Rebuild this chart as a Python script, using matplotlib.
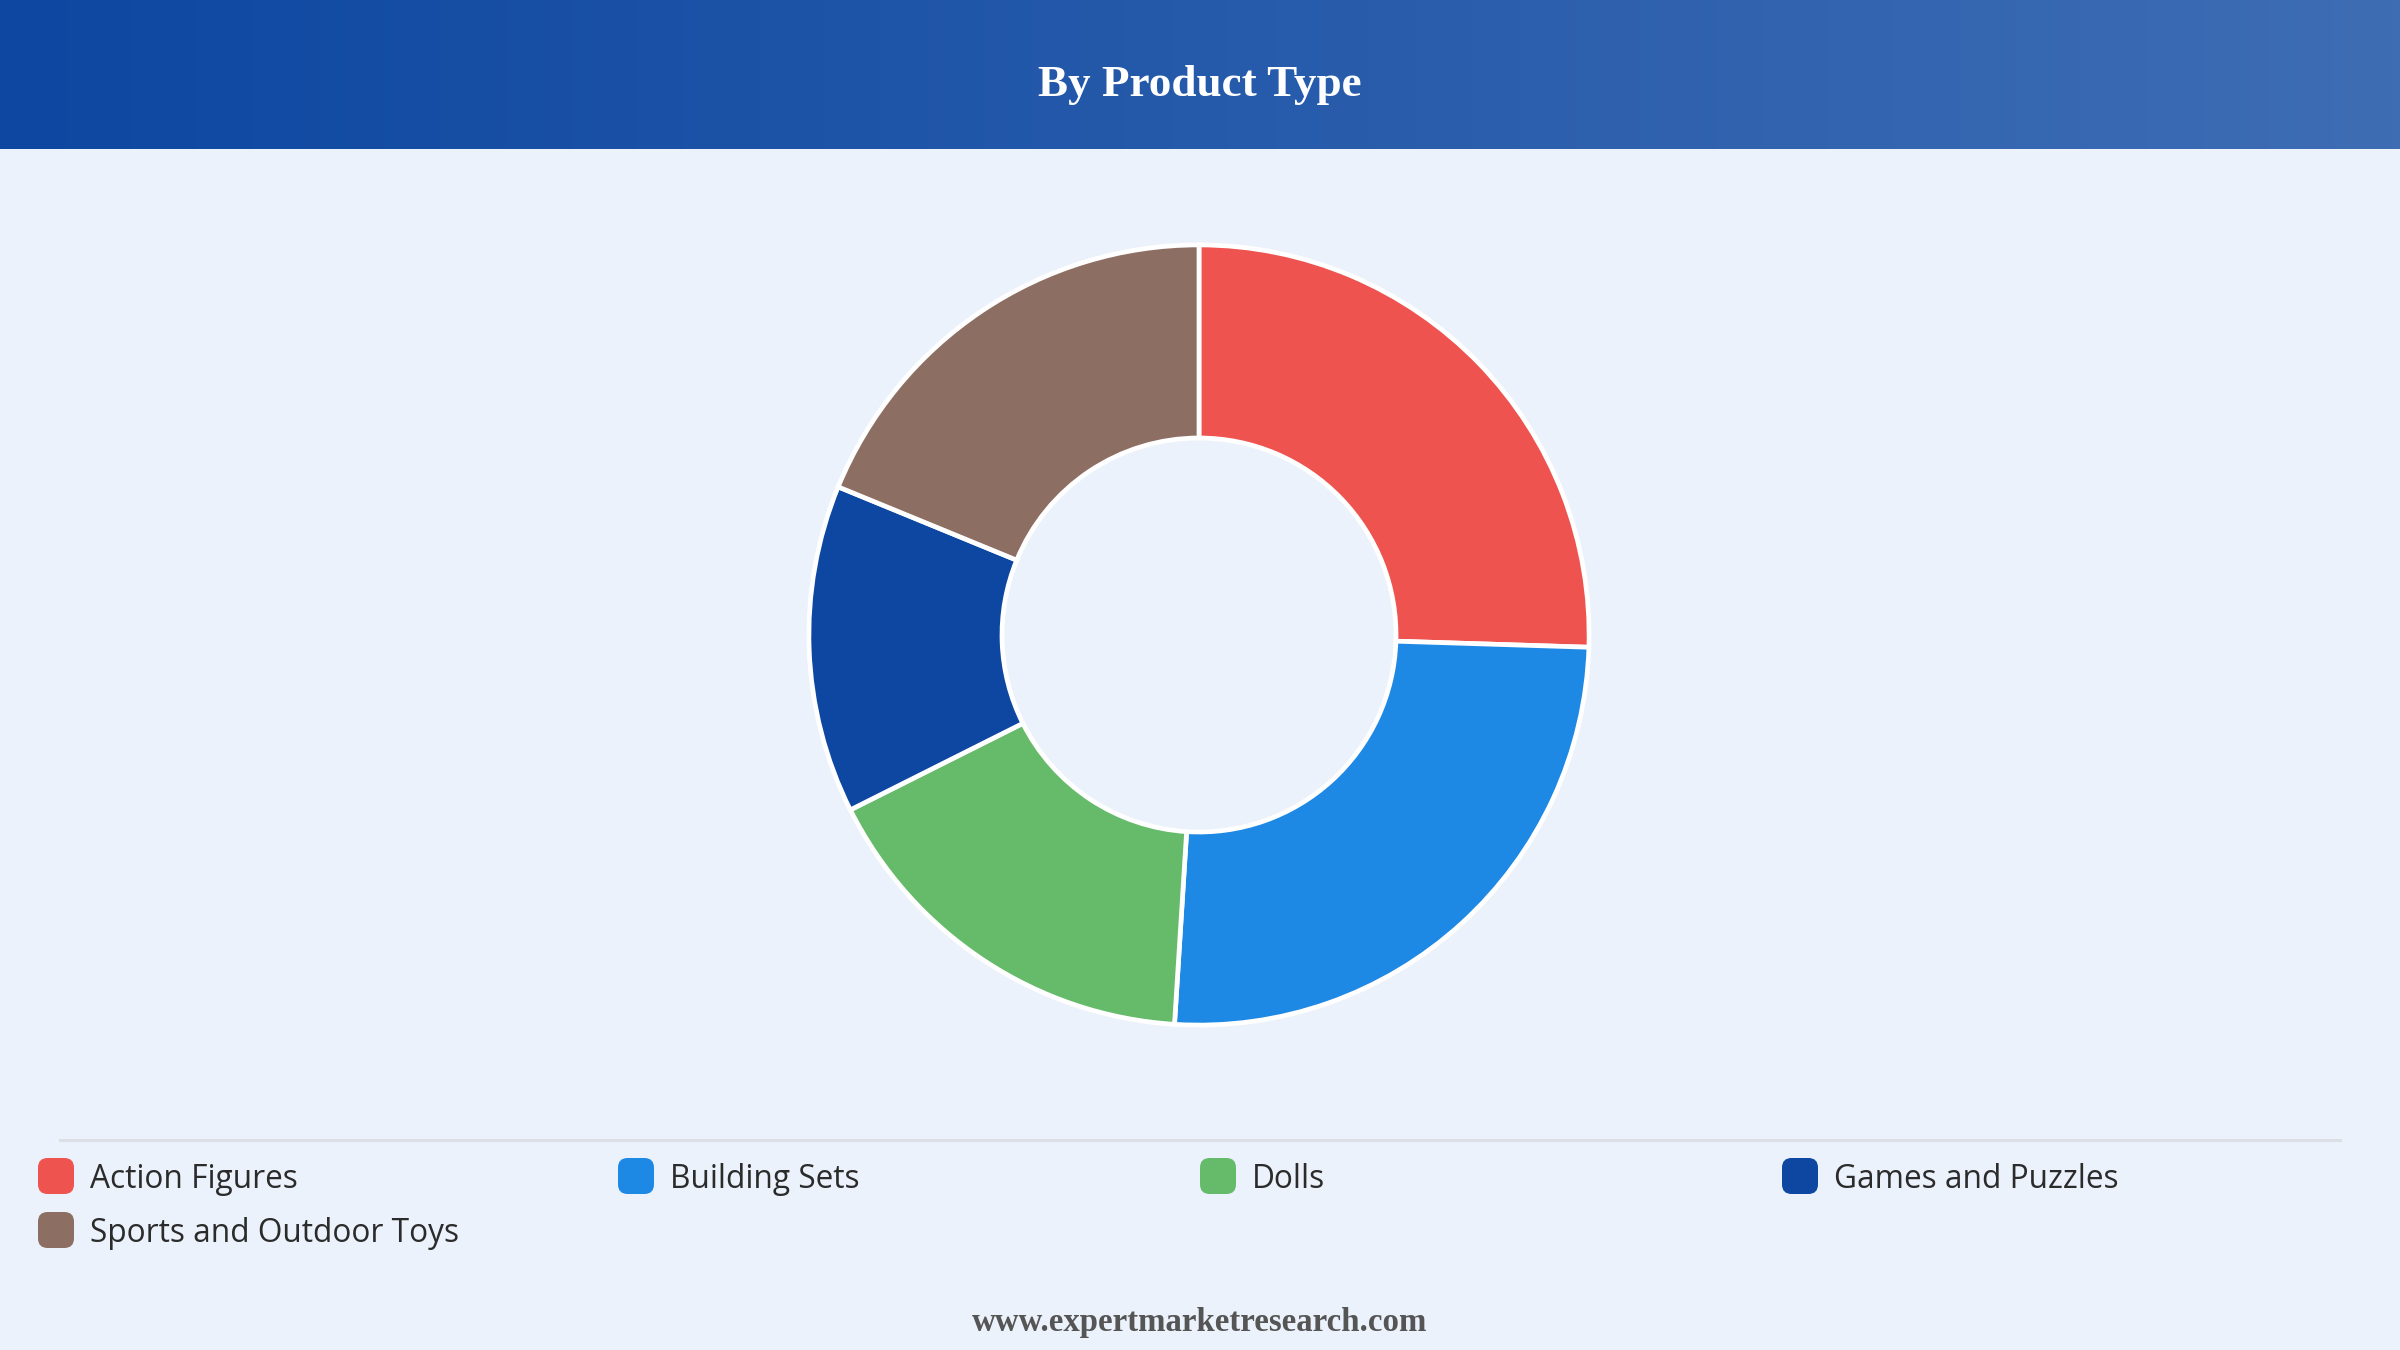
import matplotlib.pyplot as plt
import numpy as np
from matplotlib.patches import FancyBboxPatch

# data (share, %)
labels = ["Action Figures", "Building Sets", "Dolls", "Games and Puzzles", "Sports and Outdoor Toys"]
shares = [25.5, 25.5, 16.6, 13.6, 18.8]
colors = ["#EF5350", "#1E88E5", "#66BB6A", "#0D47A1", "#8D6E63"]

W, H = 2400, 1350
fig = plt.figure(figsize=(24, 13.5), dpi=100)
fig.patch.set_facecolor("#EBF2FB")

# header band with horizontal gradient
hdr = fig.add_axes([0, 1 - 149 / H, 1, 149 / H])
grad = np.linspace(0, 1, 256).reshape(1, -1)
c0 = np.array([13, 71, 161]) / 255
c1 = np.array([62, 109, 180]) / 255
img = c0[None, None, :] * (1 - grad[..., None]) + c1[None, None, :] * grad[..., None]
hdr.imshow(img, aspect="auto", extent=[0, 1, 0, 1])
hdr.set_axis_off()
hdr.text(0.5, 0.43, "By Product Type", color="white", fontsize=32.5, fontweight="bold",
         family="Liberation Serif", ha="center", va="center")

# donut
cx, cy, r = 1199, 635, 394
ax = fig.add_axes([(cx - r) / W, 1 - (cy + r) / H, 2 * r / W, 2 * r / H])
ax.pie(shares, colors=colors, startangle=90, counterclock=False, radius=1,
       wedgeprops=dict(width=0.495, edgecolor="white", linewidth=3.4))
ax.set_xlim(-1.01, 1.01)
ax.set_ylim(-1.01, 1.01)
ax.set_aspect("equal")
ax.set_axis_off()

# legend separator
fig.add_artist(plt.Line2D([60 / W, 2340 / W], [1 - 1140 / H, 1 - 1140 / H],
                          color="#DCDFE3", linewidth=2.2))

# legend
col_x = [38, 618, 1200, 1782]
row_y = [1176, 1230]
sw = 36
for i, (lab, col) in enumerate(zip(labels, colors)):
    x = col_x[i % 4]
    y = row_y[i // 4]
    box = FancyBboxPatch((x / W, 1 - (y + sw / 2) / H), sw / W, sw / H,
                         boxstyle="round,pad=0,rounding_size=0.004",
                         transform=fig.transFigure, facecolor=col, edgecolor="none",
                         mutation_aspect=W / H)
    fig.add_artist(box)
    fig.text((x + 52) / W, 1 - (y + 4) / H, lab, fontsize=22.8, color="#2B2B2B",
             family="Open Sans", ha="left", va="center")

# footer
fig.text(0.5, 1 - 1323 / H, "www.expertmarketresearch.com", fontsize=23.7, fontweight="bold",
         color="#555555", family="Liberation Serif", ha="center", va="center")

fig.savefig("out.png", dpi=100, facecolor=fig.get_facecolor())
